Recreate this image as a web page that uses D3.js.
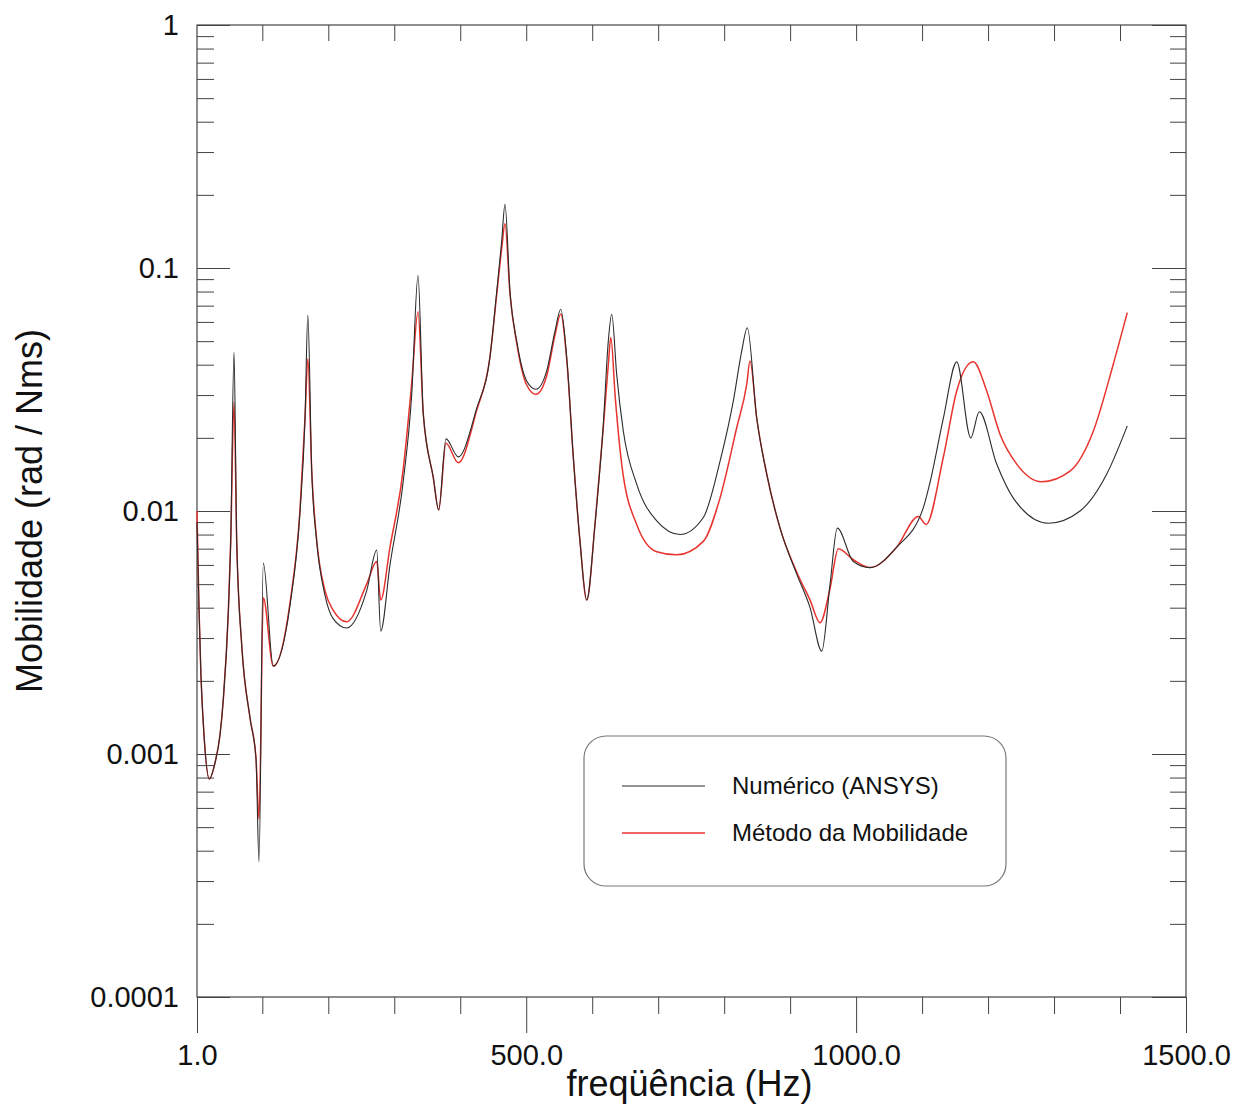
<!DOCTYPE html>
<html>
<head>
<meta charset="utf-8">
<script src="https://cdn.jsdelivr.net/npm/d3@7"></script>
<style>
    body { margin: 0; background: #fff; }
    svg { display: block; font-family: "Liberation Sans", Arial, sans-serif; }
</style>
</head>
<body>
<div id="chart"></div>
<script>
// frequency (Hz) / mobility (rad / Nms)
const freqAnsys = [1, 4, 7, 11.6, 19.6, 28.3, 35.9, 40.9, 48.4, 52.1, 57.1, 61.2, 68.8, 81.3, 90.4,
    95, 101.5, 116.6, 142, 157, 164.7, 169, 174.9, 182.4, 195, 207.6, 227.9, 258.2, 273.4, 279.4,
    293.5, 313.2, 326.4, 336, 344, 359.2, 367.3, 378.4, 397, 425, 445, 455.3, 462.8, 467.8, 475.4,
    485.6, 500.7, 514.8, 531, 543.6, 552.3, 561.4, 571.4, 581.5, 591.7, 604.2, 616.8, 624.4, 629.6, 637.1,
    647.2, 667.4, 697.8, 733.1, 768.4, 793.7, 813.9, 826.6, 835.1, 849.3, 864.5, 884.7, 910, 930.2, 947.9,
    960.5, 971.5, 995.7, 1021, 1061.5, 1101.8, 1112, 1132.1, 1152.5, 1173.7, 1186.7, 1213.1, 1238.3, 1291.3, 1339.4,
    1379.9, 1411];
const mobAnsys = [0.009, 0.004, 0.0021, 0.0012, 0.00079, 0.00092, 0.0012, 0.00168, 0.0038, 0.0075, 0.045, 0.0075, 0.0028, 0.00141, 0.00096,
    0.00036, 0.0061, 0.0023, 0.0041, 0.0098, 0.024, 0.064, 0.0146, 0.0075, 0.0045, 0.0036, 0.0033, 0.0047, 0.0069, 0.0032,
    0.0060, 0.013, 0.030, 0.093, 0.025, 0.0137, 0.0101, 0.0198, 0.0167, 0.0265, 0.043, 0.080, 0.129, 0.183, 0.080,
    0.050, 0.0343, 0.0317, 0.0377, 0.055, 0.0676, 0.0428, 0.0166, 0.0075, 0.0043, 0.0088, 0.0227, 0.050, 0.0645, 0.0365,
    0.0213, 0.0129, 0.0091, 0.0080, 0.0094, 0.016, 0.0284, 0.0455, 0.0568, 0.0242, 0.0142, 0.0085, 0.0055, 0.0040, 0.00265,
    0.0050, 0.0085, 0.0062, 0.00585, 0.0071, 0.0103, 0.0131, 0.024, 0.0411, 0.020, 0.0256, 0.0156, 0.0113, 0.0089, 0.010,
    0.0142, 0.0224];

const freqMob = [1, 4, 7, 11.6, 19.6, 28.3, 35.9, 40.9, 48.4, 52.1, 57.1, 61.2, 68.8, 81.3, 90.4,
    95, 101.5, 116.6, 142, 157, 164.7, 169, 174.9, 182.4, 195, 207.6, 227.9, 258.2, 273.4, 279.4,
    293.5, 313.2, 326.4, 336, 344, 359.2, 367.3, 378.4, 397, 425, 445, 455.3, 462.8, 467.8, 475.4,
    485.6, 500.7, 514.8, 531, 543.6, 552.3, 561.4, 571.4, 581.5, 591.7, 604.2, 616.8, 624.4, 628.2, 635,
    644.7, 667.4, 697.8, 727.8, 768.4, 793.7, 819, 834.2, 839.2, 849.3, 864.5, 884.7, 910, 930.2, 945.3,
    960.5, 973, 995.7, 1021, 1061.5, 1094.3, 1106, 1132.1, 1152.5, 1177.6, 1197.9, 1218.1, 1243.4, 1281.3, 1324.2,
    1359.5, 1389.8, 1411];
const mobMob = [0.010, 0.004, 0.0021, 0.0012, 0.00079, 0.00092, 0.0012, 0.00168, 0.0038, 0.0075, 0.028, 0.0075, 0.0028, 0.00141, 0.00096,
    0.00054, 0.0044, 0.0023, 0.0042, 0.0100, 0.024, 0.0423, 0.0146, 0.0076, 0.0047, 0.0039, 0.0035, 0.0050, 0.0062, 0.0043,
    0.0071, 0.0146, 0.0335, 0.066, 0.025, 0.0137, 0.0101, 0.019, 0.0158, 0.026, 0.043, 0.078, 0.120, 0.152, 0.078,
    0.049, 0.033, 0.0302, 0.036, 0.053, 0.0646, 0.042, 0.0166, 0.0075, 0.0043, 0.0088, 0.022, 0.040, 0.0517, 0.0292,
    0.0156, 0.0088, 0.0068, 0.0066, 0.0075, 0.0113, 0.022, 0.0332, 0.0414, 0.0242, 0.0142, 0.0085, 0.0056, 0.0043, 0.00347,
    0.0048, 0.0070, 0.0063, 0.00585, 0.0071, 0.0095, 0.0088, 0.0166, 0.0312, 0.0411, 0.0312, 0.0207, 0.0156, 0.0132, 0.0146,
    0.0213, 0.0402, 0.0655];

const xTicks = d3.range(0, 16).map(i => i === 0 ? 1 : i * 100);
const xLabelTicks = [1, 500, 1000, 1500];
const yMajorTicks = [0.0001, 0.001, 0.01, 0.1, 1];
const yLabels = ['0.0001', '0.001', '0.01', '0.1', '1'];
const legendNames = ['Numérico (ANSYS)', 'Método da Mobilidade'];

const width = 1242;
const height = 1107;
const plotLeft = 197, plotRight = 1186, plotTop = 25, plotBottom = 997;

const svg = d3.select('#chart')
    .append('svg')
    .attr('width', width)
    .attr('height', height);

svg.append('rect')
    .attr('width', width)
    .attr('height', height)
    .attr('fill', '#fff');

const xScale = d3.scaleLinear()
    .domain([1, 1500])
    .range([plotLeft, plotRight]);

const yScale = d3.scaleLog()
    .domain([0.0001, 1])
    .range([plotBottom, plotTop]);

// minor ticks 2..9 in every decade
const yMinorTicks = [];
yMajorTicks.slice(0, -1).forEach(d => {
    for (let k = 2; k <= 9; k++) yMinorTicks.push(d * k);
});

const tickColor = '#444';

function styleAxis(g) {
    g.select('.domain').remove();
    g.selectAll('line').attr('stroke', tickColor).attr('stroke-width', 1);
}

// left axis, ticks inward
svg.append('g')
    .attr('transform', `translate(${plotLeft},0)`)
    .call(d3.axisLeft(yScale).tickValues(yMinorTicks).tickSize(-17).tickFormat(''))
    .call(styleAxis);

svg.append('g')
    .attr('transform', `translate(${plotLeft},0)`)
    .call(d3.axisLeft(yScale).tickValues(yMajorTicks).tickSize(-33).tickPadding(18)
        .tickFormat((d, i) => yLabels[i]))
    .call(styleAxis)
    .selectAll('text')
    .attr('font-size', 29)
    .attr('fill', '#111')
    .attr('font-family', '"Liberation Sans", Arial, sans-serif');

// right axis, ticks inward
svg.append('g')
    .attr('transform', `translate(${plotRight},0)`)
    .call(d3.axisRight(yScale).tickValues(yMinorTicks).tickSize(-16).tickFormat(''))
    .call(styleAxis);

svg.append('g')
    .attr('transform', `translate(${plotRight},0)`)
    .call(d3.axisRight(yScale).tickValues(yMajorTicks).tickSize(-34).tickFormat(''))
    .call(styleAxis);

// top axis, ticks inward
svg.append('g')
    .attr('transform', `translate(0,${plotTop})`)
    .call(d3.axisTop(xScale).tickValues(xTicks.slice(1, -1)).tickSize(-16).tickFormat(''))
    .call(styleAxis);

// bottom axis, ticks outward
svg.append('g')
    .attr('transform', `translate(0,${plotBottom})`)
    .call(d3.axisBottom(xScale).tickValues(xTicks.filter(d => !xLabelTicks.includes(d))).tickSize(17).tickFormat(''))
    .call(styleAxis);

svg.append('g')
    .attr('transform', `translate(0,${plotBottom})`)
    .call(d3.axisBottom(xScale).tickValues(xLabelTicks).tickSize(36).tickPadding(11)
        .tickFormat(d => d.toFixed(1)))
    .call(styleAxis)
    .selectAll('text')
    .attr('font-size', 29)
    .attr('fill', '#111')
    .attr('font-family', '"Liberation Sans", Arial, sans-serif');

// frame
svg.append('rect')
    .attr('x', plotLeft)
    .attr('y', plotTop)
    .attr('width', plotRight - plotLeft)
    .attr('height', plotBottom - plotTop)
    .attr('fill', 'none')
    .attr('stroke', tickColor)
    .attr('stroke-width', 1.2);

// axis titles
svg.append('text')
    .attr('x', (plotLeft + plotRight) / 2 - 2)
    .attr('y', 1096)
    .attr('text-anchor', 'middle')
    .attr('font-size', 36)
    .attr('fill', '#111')
    .text('freqüência (Hz)');

svg.append('text')
    .attr('transform', `translate(42, ${(plotTop + plotBottom) / 2}) rotate(-90)`)
    .attr('text-anchor', 'middle')
    .attr('font-size', 36)
    .attr('fill', '#111')
    .text('Mobilidade (rad / Nms)');

// curves
const line = d3.line()
    .x(d => xScale(d.f))
    .y(d => yScale(d.v))
    .curve(d3.curveMonotoneX);

const ansysData = freqAnsys.map((f, i) => ({ f: f, v: mobAnsys[i] }));
const mobData = freqMob.map((f, i) => ({ f: f, v: mobMob[i] }));

svg.append('path')
    .datum(mobData)
    .attr('fill', 'none')
    .attr('stroke', '#e8342e')
    .attr('stroke-width', 1.5)
    .attr('d', line);

svg.append('path')
    .datum(ansysData)
    .attr('fill', 'none')
    .attr('stroke', '#2b2b2b')
    .attr('stroke-width', 1.1)
    .attr('d', line);

// legend
const legend = svg.append('g');
legend.append('rect')
    .attr('x', 584)
    .attr('y', 736)
    .attr('width', 422)
    .attr('height', 150)
    .attr('rx', 22)
    .attr('fill', '#fff')
    .attr('stroke', '#777')
    .attr('stroke-width', 1.2);

const legendColors = ['#2b2b2b', '#e8342e'];
legendNames.forEach((name, i) => {
    const y = 786 + i * 47;
    legend.append('line')
        .attr('x1', 622)
        .attr('x2', 705)
        .attr('y1', y)
        .attr('y2', y)
        .attr('stroke', legendColors[i])
        .attr('stroke-width', i === 0 ? 1.1 : 1.5);
    legend.append('text')
        .attr('x', 732)
        .attr('y', y)
        .attr('dy', '0.35em')
        .attr('font-size', 24)
        .attr('fill', '#111')
        .text(name);
});
</script>
</body>
</html>
